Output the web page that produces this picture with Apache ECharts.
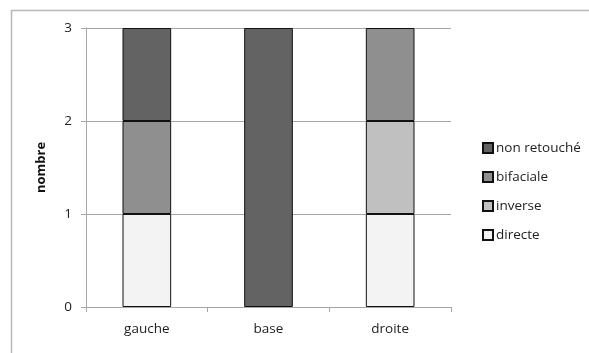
<!DOCTYPE html>
<html><head><meta charset="utf-8">
<script src="https://cdn.jsdelivr.net/npm/echarts@6/dist/echarts.min.js"></script>
<style>html,body{margin:0;padding:0;background:#fff}#c{width:589px;height:353px}</style>
</head><body><div id="c"></div>
<script>
const categories = ['gauche', 'base', 'droite'];
const seriesNames = ['directe', 'inverse', 'bifaciale', 'non retouché'];
const directe = [1, 0, 1];
const inverse = [0, 0, 1];
const bifaciale = [1, 0, 1];
const nonRetouche = [1, 3, 0];
const yTicks = [0, 1, 2, 3];

const values = [directe, inverse, bifaciale, nonRetouche];
const colors = ['#f3f3f3', '#c0c0c0', '#8f8f8f', '#636363'];
const font = '"Open Sans", sans-serif';

const chart = echarts.init(document.getElementById('c'), null, {renderer: 'canvas'});
chart.setOption({
  animation: false,
  backgroundColor: '#fff',
  graphic: [{
    type: 'rect', shape: {x: 11.5, y: 10.5, width: 700, height: 500},
    style: {fill: 'none', stroke: '#b8b8b8', lineWidth: 1.5}, z: -1
  }],
  grid: {left: 86, top: 28, width: 365, height: 279, containLabel: false},
  legend: {
    orient: 'vertical', left: 477, top: 136, itemGap: 15,
    itemWidth: 10, itemHeight: 10, icon: 'rect',
    data: seriesNames.slice().reverse(),
    textStyle: {fontFamily: font, fontSize: 13.5, lineHeight: 14, color: '#222', padding: [0, 0, 0, -2]}
  },
  xAxis: {
    type: 'category', data: categories,
    axisLine: {lineStyle: {color: '#a6a6a6', width: 1}},
    axisTick: {show: true, length: 5, lineStyle: {color: '#a6a6a6'}},
    axisLabel: {fontFamily: font, fontSize: 13.5, color: '#222', margin: 15}
  },
  yAxis: {
    type: 'value', min: yTicks[0], max: yTicks[yTicks.length - 1], interval: 1,
    name: 'nombre', nameLocation: 'middle', nameGap: 38,
    nameTextStyle: {fontFamily: font, fontSize: 13, fontWeight: 'bold', color: '#111'},
    axisLine: {show: true, lineStyle: {color: '#a6a6a6', width: 1}},
    axisTick: {show: true, length: 5, lineStyle: {color: '#a6a6a6'}},
    axisLabel: {fontFamily: font, fontSize: 13.5, color: '#222', margin: 14},
    splitLine: {lineStyle: {color: '#a6a6a6', width: 1}}
  },
  series: seriesNames.map((n, i) => ({
    name: n, type: 'bar', stack: 'total', barWidth: '40%',
    data: values[i].map(v => (v === 0 ? null : v)),
    itemStyle: {color: colors[i], borderColor: '#111', borderWidth: 1}
  }))
});
</script></body></html>
